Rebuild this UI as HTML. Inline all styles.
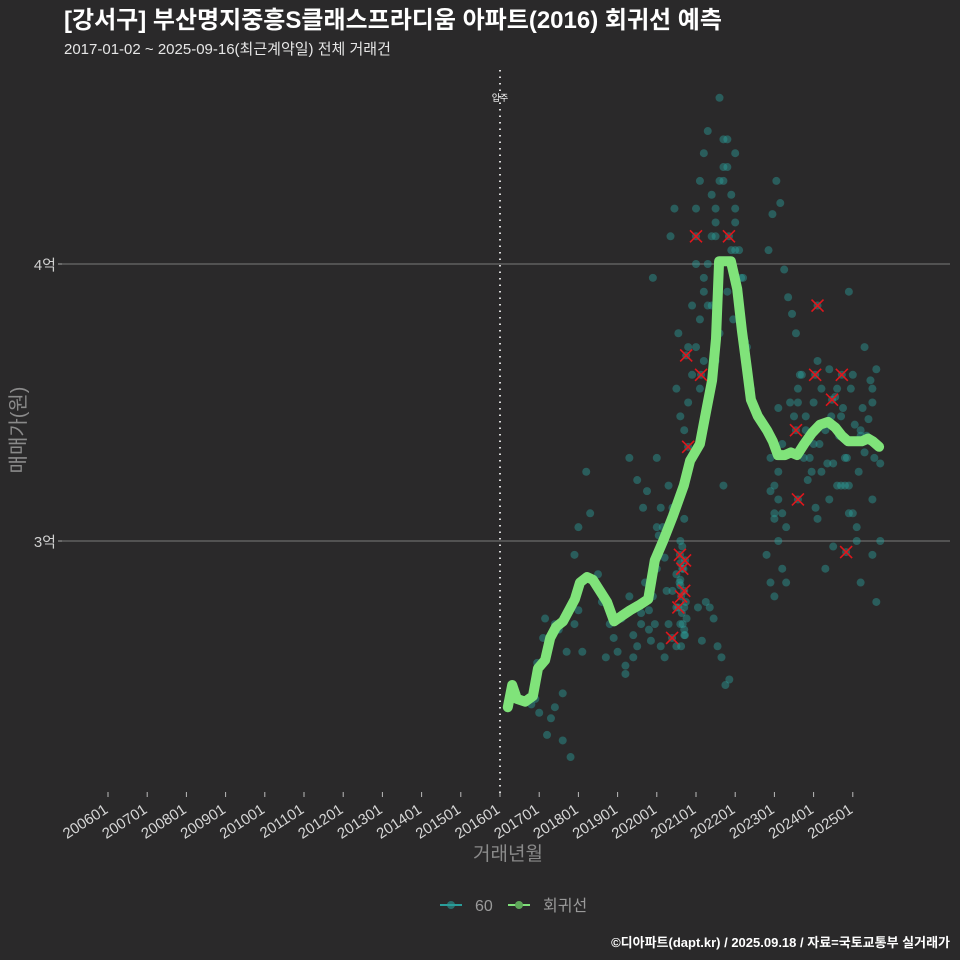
<!DOCTYPE html>
<html><head><meta charset="utf-8">
<style>
body{margin:0;background:#2a292a;width:960px;height:960px;overflow:hidden;font-family:"Liberation Sans","Noto Sans CJK KR",sans-serif;}
svg{display:block}
</style></head>
<body>
<svg id="chart" width="960" height="960" xmlns="http://www.w3.org/2000/svg" font-family="Liberation Sans, Noto Sans CJK KR, sans-serif">
<rect width="960" height="960" fill="#2a292a"/>
<text x="64" y="28" fill="#ffffff" font-size="24" font-weight="bold">[강서구] 부산명지중흥S클래스프라디움 아파트(2016) 회귀선 예측</text>
<text x="64" y="54" fill="#e6e6e6" font-size="15">2017-01-02 ~ 2025-09-16(최근계약일) 전체 거래건</text>
<g id="grid"></g>
<g id="xaxis"></g>
<g id="yaxis"></g>
<g id="marks"></g>
<text x="25" y="430" fill="#8a8a8a" font-size="20" text-anchor="middle" transform="rotate(-90 25 430)">매매가(원)</text>
<text x="508" y="860" fill="#8a8a8a" font-size="19" text-anchor="middle">거래년월</text>
<g>
<g>
<line x1="440" y1="905" x2="462" y2="905" stroke="#2a9d9a" stroke-width="2"/><circle cx="451" cy="905" r="4" fill="#2a9d9a" opacity="0.6"/>
<text x="475" y="911" fill="#9a9a9a" font-size="16">60</text></g>
<g>
<line x1="508" y1="905" x2="530" y2="905" stroke="#7fe07a" stroke-width="2"/><circle cx="519" cy="905" r="4" fill="#5fa85a"/>
<text x="543" y="911" fill="#9a9a9a" font-size="16">회귀선</text></g>
</g>
<text x="950" y="947" fill="#ffffff" font-size="13" font-weight="bold" text-anchor="end">©디아파트(dapt.kr) / 2025.09.18 / 자료=국토교통부 실거래가</text>
</svg>
<script>
const xTicks=["200601","200701","200801","200901","201001","201101","201201","201301","201401","201501","201601","201701","201801","201901","202001","202101","202201","202301","202401","202501"];
const yTicks=[3,4];
const yTickLabels=["3억","4억"];
const moveInYear=2016.0;
const regYears=[2016.20,2016.31,2016.43,2016.64,2016.84,2016.97,2017.15,2017.28,2017.43,2017.61,2017.76,2017.91,2018.04,2018.22,2018.37,2018.55,2018.73,2018.91,2019.11,2019.32,2019.57,2019.78,2019.95,2020.16,2020.41,2020.69,2020.85,2021.10,2021.26,2021.41,2021.51,2021.59,2021.74,2021.89,2022.05,2022.17,2022.30,2022.40,2022.58,2022.81,2022.96,2023.09,2023.27,2023.42,2023.58,2023.76,2023.96,2024.16,2024.37,2024.55,2024.72,2024.88,2025.06,2025.23,2025.39,2025.51,2025.67];
const regPrices=[2.40,2.48,2.43,2.42,2.44,2.54,2.57,2.65,2.69,2.71,2.75,2.79,2.85,2.87,2.86,2.82,2.78,2.71,2.73,2.75,2.77,2.79,2.93,3.00,3.09,3.20,3.29,3.35,3.47,3.58,3.73,4.01,4.01,4.01,3.91,3.76,3.62,3.51,3.45,3.40,3.36,3.31,3.31,3.32,3.31,3.35,3.39,3.42,3.43,3.41,3.38,3.36,3.36,3.36,3.37,3.36,3.34];
const dealYears=[2016.8,2016.9,2017.0,2017.1,2017.2,2017.3,2017.4,2017.5,2017.6,2017.0,2017.2,2017.4,2017.6,2017.8,2017.9,2018.0,2018.1,2018.2,2018.3,2017.9,2018.0,2018.4,2018.6,2018.8,2018.9,2019.0,2019.1,2019.2,2019.3,2019.4,2019.5,2019.6,2019.7,2019.8,2019.9,2019.2,2019.4,2019.6,2019.8,2019.9,2020.0,2020.1,2020.2,2020.3,2020.4,2020.5,2020.0,2020.2,2020.3,2020.4,2020.5,2020.6,2020.6,2020.7,2020.6,2020.7,2020.8,2020.7,2020.6,2020.5,2020.6,2020.7,2020.8,2020.9,2021.0,2021.1,2021.2,2021.3,2021.4,2021.5,2021.6,2021.7,2021.8,2021.9,2022.0,2022.1,2022.2,2020.8,2020.9,2021.0,2021.1,2021.2,2021.3,2021.4,2021.5,2021.6,2021.7,2021.8,2021.9,2022.0,2021.1,2021.2,2021.4,2021.6,2021.8,2021.0,2021.2,2021.5,2021.7,2022.0,2022.3,2022.4,2022.6,2022.8,2022.9,2023.0,2023.1,2023.2,2023.3,2022.8,2022.9,2023.0,2023.1,2023.2,2022.9,2023.0,2023.1,2023.2,2023.3,2023.0,2023.1,2023.4,2023.5,2023.6,2023.7,2023.8,2023.9,2024.0,2024.1,2024.2,2024.3,2024.4,2024.5,2024.6,2023.6,2023.8,2024.0,2024.2,2024.4,2024.6,2024.7,2024.8,2024.9,2025.0,2025.1,2025.2,2025.3,2025.4,2025.5,2025.6,2025.7,2024.7,2024.9,2025.1,2025.3,2025.5,2025.7,2024.3,2024.8,2025.0,2025.2,2025.5,2025.6,2024.1,2024.5,2024.9,2025.2,2025.5,2021.5,2021.7,2022.0,2021.3,
2019.9,2020.0,2020.1,2020.15,2020.25,2020.35,2020.45,2020.5,2020.55,2020.62,2020.66,2020.72,2020.74,2020.58,2020.64,2020.68,2020.7,2020.76,2020.6,2020.65,2019.65,2019.75,2019.85,2019.95,2020.05,2019.5,2019.3,2018.7,2018.5,2017.7,2017.45,2016.95,2017.15,2021.05,2021.15,2021.25,2021.35,2021.45,2021.55,2021.65,2021.75,2021.85,2021.95,2022.05,2022.15,2022.25,2022.85,2022.95,2023.05,2023.15,2023.25,2023.35,2023.45,2023.55,2023.65,2023.75,2023.85,2023.95,2024.05,2024.15,2024.25,2024.35,2024.45,2024.55,2024.65,2024.75,2024.85,2024.95,2025.05,2025.15,2025.25,2025.35,2025.45,2025.55];
const dealPrices=[2.41,2.43,2.38,2.65,2.60,2.36,2.40,2.68,2.45,2.55,2.30,2.70,2.28,2.22,2.70,2.75,2.60,3.25,3.10,2.95,3.05,2.85,2.78,2.70,2.65,2.60,2.72,2.55,2.80,2.66,2.62,2.70,2.85,2.75,2.90,2.52,2.58,2.74,2.68,2.80,2.90,2.62,2.58,2.70,2.82,2.76,3.05,2.94,3.20,3.12,2.88,2.92,3.00,3.08,2.70,2.66,3.25,3.40,3.45,2.62,2.84,2.76,3.50,3.60,3.70,3.80,3.90,4.00,4.10,4.20,4.30,4.45,4.35,4.25,4.15,4.05,3.95,3.70,3.85,4.20,4.30,4.40,4.48,4.25,4.10,4.60,4.35,4.45,4.05,4.20,3.55,3.65,3.85,3.75,3.90,4.00,3.95,4.15,4.30,4.40,3.70,3.55,3.45,3.40,3.30,3.20,3.15,3.10,3.05,2.95,2.85,2.80,3.25,3.35,3.18,3.08,3.00,2.90,2.85,3.10,3.48,3.50,3.45,3.55,3.60,3.40,3.30,3.50,3.65,3.55,3.40,3.62,3.28,3.20,3.50,3.45,3.35,3.25,3.15,3.55,3.45,3.30,3.20,3.10,3.00,3.38,3.32,3.44,3.50,3.62,3.28,3.20,3.10,3.05,3.70,3.15,3.00,2.90,3.20,3.60,2.85,2.95,2.78,3.08,2.98,3.90,3.40,3.55,3.65,3.20,4.05,3.85,3.95,3.30,3.12,3.05,2.82,4.10,4.20,3.55,3.75,
2.62,2.70,2.66,2.78,2.85,2.74,2.90,2.68,2.72,2.86,2.98,3.12,3.18,2.64,2.70,3.02,3.22,3.30,2.58,2.88,2.60,2.68,2.56,2.72,2.76,2.64,2.78,2.76,2.72,2.62,2.58,2.48,2.50,3.80,3.90,3.95,3.72,4.05,4.18,4.30,4.22,3.98,3.88,3.82,3.75,3.60,3.30,3.22,3.25,3.12,3.35,3.42,3.28,3.45,3.52,3.38,3.48,3.30,3.55,3.42,3.25,3.48,3.38,3.58,3.30,3.45,3.22,3.35,3.25,3.40,3.18,3.30,3.15,3.45];
const xYears=[2020.75,2021.00,2021.84,2021.13,2020.80,2020.39,2020.59,2020.65,2020.72,2020.62,2020.70,2020.55,2023.55,2023.60,2024.10,2024.04,2024.47,2024.72,2024.83];
const xPrices=[3.67,4.10,4.10,3.60,3.34,2.65,2.95,2.90,2.93,2.80,2.82,2.76,3.40,3.15,3.85,3.60,3.51,3.60,2.96];

const NS="http://www.w3.org/2000/svg";
function xs(yr){return 108+(yr-2006)*39.2;}
function ys(p){return 541-(p-3)*277;}
function el(tag,attrs,parent){const e=document.createElementNS(NS,tag);for(const k in attrs)e.setAttribute(k,attrs[k]);parent.appendChild(e);return e;}
const grid=document.getElementById('grid'),xa=document.getElementById('xaxis'),ya=document.getElementById('yaxis'),marks=document.getElementById('marks');
yTicks.forEach((v,i)=>{
 const g=el('line',{x1:62,x2:950,y1:ys(v),y2:ys(v),stroke:'#7a7a7a','stroke-width':1},grid);
 
 
 el('line',{x1:58,x2:62,y1:ys(v),y2:ys(v),stroke:'#aaa'},ya);
 const t=el('text',{x:56,y:ys(v)+6,fill:'#d0d0d0','font-size':15,'text-anchor':'end'},ya);
 t.textContent=yTickLabels[i];
 
 
});
xTicks.forEach(lbl=>{
 const yr=+lbl.slice(0,4)+(+lbl.slice(4)-1)/12;
 const x=xs(yr);
 el('line',{x1:x,x2:x,y1:792,y2:797,stroke:'#bbb'},xa);
 const tx=x+1,ty=812;
 const t=el('text',{x:tx,y:ty,fill:'#d6d6d6','font-size':15,'text-anchor':'end',transform:`rotate(-33 ${tx} ${ty})`},xa);
 t.textContent=lbl;
 
 
});
const vx=xs(moveInYear);
const vl=el('line',{x1:vx,x2:vx,y1:70,y2:795,stroke:'#ddd','stroke-width':2,'stroke-dasharray':'1.5 5'},marks);


const vt=el('text',{x:vx,y:101,fill:'#fff','font-size':9,'text-anchor':'middle'},marks);
vt.textContent='입주';


dealYears.forEach((yr,i)=>{
 const c=el('circle',{cx:xs(yr),cy:ys(dealPrices[i]),r:4,fill:'#2a9d9a','fill-opacity':0.45},marks);
 
 
});
xYears.forEach((yr,i)=>{
 const x=xs(yr),y=ys(xPrices[i]);
 const g=el('g',{},marks);
 
 
 el('circle',{cx:x,cy:y,r:4,fill:'#2a9d9a','fill-opacity':0.45},g);
 el('path',{d:`M${x-6} ${y-6}L${x+6} ${y+6}M${x+6} ${y-6}L${x-6} ${y+6}`,stroke:'#e0161c','stroke-width':1.6},g);
});
const d=regYears.map((yr,i)=>(i?'L':'M')+xs(yr).toFixed(1)+' '+ys(regPrices[i]).toFixed(1)).join('');
const rp=el('path',{d:d,fill:'none',stroke:'#80e37a','stroke-width':10,'stroke-linejoin':'round','stroke-linecap':'round'},marks);


</script>
</body></html>
